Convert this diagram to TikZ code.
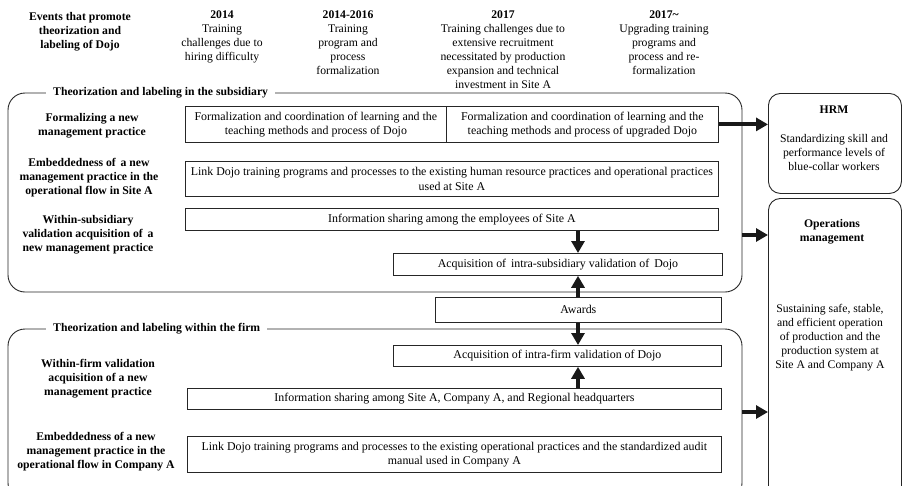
\documentclass[tikz,border=0pt]{standalone}
\usepackage{fontspec}
\setmainfont{Liberation Serif}
\usetikzlibrary{arrows.meta}
\begin{document}
\begin{tikzpicture}[x=1pt,y=-1pt,
  txt/.style={font=\fontsize{11.7}{14}\selectfont, align=center, inner sep=0pt},
  bld/.style={font=\fontsize{11.7}{14}\selectfont\bfseries, align=center, inner sep=0pt},
  pbox/.style={draw=black!85, line width=0.8pt, font=\fontsize{11.9}{14.5}\selectfont, align=center, inner sep=0pt, anchor=north west},
  frame/.style={draw=black!85, line width=0.9pt, rounded corners=17pt},
  rframe/.style={draw=black!85, line width=0.9pt, rounded corners=12pt},
  ttl/.style={font=\fontsize{11.7}{14}\selectfont\bfseries, fill=white, inner xsep=7pt, inner ysep=2pt, anchor=west},
  arr/.style={line width=4pt, -{Triangle[length=12pt,width=13pt]}, black!90}
]
\useasboundingbox (0,0) rectangle (903,485);
\clip (0,0) rectangle (903,485);

% headers
\node[bld, anchor=north] (h0) at (80,12) {Events that promote\\theorization and\\labeling of Dojo};
\node[txt, anchor=north] (h1) at (222,11) {\textbf{2014}\\Training\\challenges due to\\hiring difficulty};
\node[txt, anchor=north] (h2) at (348,11) {\textbf{2014-2016}\\Training\\program and\\process\\formalization};
\node[txt, anchor=north] (h3) at (503,11) {\textbf{2017}\\Training challenges due to\\extensive recruitment\\necessitated by production\\expansion and technical\\investment in Site A};
\node[txt, anchor=north] (h4) at (664,11) {\textbf{2017\textasciitilde}\\Upgrading training\\programs and\\process and re-\\formalization};

% big frames
\draw[frame] (8,93) rectangle (742,292);
\node[ttl] (t1) at (46,93) {Theorization and labeling in the subsidiary};
\draw[frame] (8,329) rectangle (742,500);
\node[ttl] (t2) at (46,329) {Theorization and labeling within the firm};

% right frames
\node[rframe, anchor=north west, minimum width=133pt, minimum height=100pt, inner sep=0pt] (hrm) at (768,93) {};
\node[bld] (hrmt) at (834,110) {HRM};
\node[txt] (hrmd) at (834,152) {Standardizing skill and\\performance levels of\\blue-collar workers};
\node[rframe, anchor=north west, minimum width=133pt, minimum height=300pt, inner sep=0pt] (ops) at (768,198) {};
\node[bld] (opst) at (832,232) {Operations\\management};
\node[txt] (opsd) at (830,338) {Sustaining safe, stable,\\and efficient operation\\of production and the\\production system at\\Site A and Company A};

% left labels
\node[bld] (l1) at (92,126) {Formalizing a new\\management practice};
\node[bld] (l2) at (89,178) {Embeddedness of\, a new\\management practice in the\\operational flow in Site A};
\node[bld] (l3) at (88,235) {Within-subsidiary\\validation acquisition of\, a\\new management practice};
\node[bld] (l4) at (98,379) {Within-firm validation\\acquisition of a new\\management practice};
\node[bld] (l5) at (96,452) {Embeddedness of a new\\management practice in the\\operational flow in Company A};

% boxes
\node[pbox, minimum width=261pt, minimum height=36pt] (b1a) at (185,106) {Formalization and coordination of learning and the\\teaching methods and process of Dojo};
\node[pbox, minimum width=272pt, minimum height=36pt] (b1b) at (446,106) {Formalization and coordination of learning and the\\teaching methods and process of upgraded Dojo};
\node[pbox, minimum width=533pt, minimum height=35pt] (b2) at (185,161) {Link Dojo training programs and processes to the existing human resource practices and operational practices\\used at Site A};
\node[pbox, minimum width=533pt, minimum height=22pt] (b3) at (185,208) {Information sharing among the employees of Site A};
\node[pbox, minimum width=329pt, minimum height=22pt] (b4) at (393,253) {Acquisition of\, intra-subsidiary validation of\, Dojo};
\node[pbox, minimum width=286pt, minimum height=25pt] (aw) at (435,297) {Awards};
\node[pbox, minimum width=328pt, minimum height=21pt] (b5) at (393,345) {Acquisition of intra-firm validation of Dojo};
\node[pbox, minimum width=534pt, minimum height=21pt] (b6) at (187,388) {Information sharing among Site A, Company A, and Regional headquarters};
\node[pbox, minimum width=534pt, minimum height=36pt] (b7) at (187,436) {Link Dojo training programs and processes to the existing operational practices and the standardized audit\\manual used in Company A};

% arrows
\coordinate (ax) at (578,0);
\draw[arr] (b3.south -| ax) -- (b4.north -| ax);
\draw[arr] (aw.north -| ax) -- (b4.south -| ax);
\draw[arr] (aw.south -| ax) -- (b5.north -| ax);
\draw[arr] (b6.north -| ax) -- (b5.south -| ax);
\draw[arr] (b1b.east) -- (b1b.east -| hrm.west);
\coordinate (s1) at (742,235);
\coordinate (s2) at (742,412);
\draw[arr] (s1) -- (s1 -| ops.west);
\draw[arr] (s2) -- (s2 -| ops.west);
\end{tikzpicture}
\end{document}
